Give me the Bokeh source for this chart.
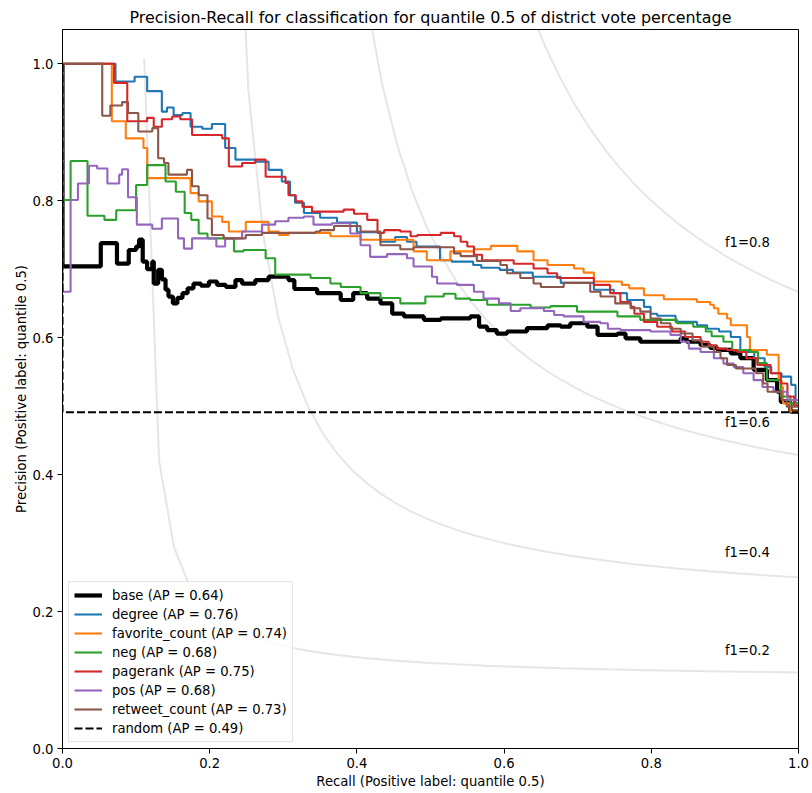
import numpy as np
from bokeh.plotting import figure
from bokeh.models import Range1d, FixedTicker, PrintfTickFormatter
from bokeh.core.properties import value
from bokeh.embed import file_html
from bokeh.resources import INLINE

# ---------------- data (recall, precision) ----------------
base_r = [0, 0, 0.052, 0.074, 0.090, 0.100, 0.104, 0.109, 0.115, 0.122, 0.124, 0.130, 0.135, 0.140, 0.144,
          0.150, 0.156, 0.163, 0.170, 0.178, 0.188, 0.199, 0.210, 0.222, 0.235, 0.244, 0.262, 0.280, 0.307,
          0.315, 0.346, 0.378, 0.395, 0.414, 0.432, 0.448, 0.464, 0.491, 0.514, 0.554, 0.566, 0.577, 0.590,
          0.604, 0.631, 0.659, 0.677, 0.690, 0.713, 0.727, 0.754, 0.765, 0.785, 0.840, 0.848, 0.867, 0.880,
          0.890, 0.908, 0.921, 0.939, 0.957, 0.971, 0.976, 0.989, 1.0]
base_p = [1.0, 0.704, 0.738, 0.708, 0.728, 0.733, 0.743, 0.711, 0.700, 0.711, 0.679, 0.699, 0.685, 0.670, 0.660,
          0.650, 0.658, 0.665, 0.672, 0.679, 0.676, 0.682, 0.677, 0.674, 0.684, 0.679, 0.684, 0.689, 0.684,
          0.671, 0.665, 0.655, 0.665, 0.657, 0.650, 0.635, 0.631, 0.626, 0.628, 0.631, 0.616, 0.611, 0.606,
          0.609, 0.614, 0.618, 0.616, 0.621, 0.616, 0.604, 0.606, 0.599, 0.594, 0.599, 0.594, 0.589, 0.585,
          0.582, 0.577, 0.570, 0.553, 0.538, 0.521, 0.506, 0.492, 0.492]

degree_r = [0, 0.072, 0.098, 0.115, 0.135, 0.142, 0.151, 0.163, 0.174, 0.190, 0.203, 0.221, 0.235, 0.262, 0.280,
            0.298, 0.309, 0.316, 0.328, 0.350, 0.373, 0.400, 0.432, 0.452, 0.468, 0.481, 0.513, 0.529, 0.558,
            0.569, 0.594, 0.612, 0.639, 0.677, 0.722, 0.749, 0.767, 0.790, 0.799, 0.808, 0.833, 0.862, 0.876,
            0.892, 0.908, 0.921, 0.940, 0.954, 0.963, 0.977, 0.990, 0.996, 1.0]
degree_p = [1.0, 0.974, 0.981, 0.960, 0.930, 0.936, 0.925, 0.928, 0.908, 0.905, 0.912, 0.877, 0.860, 0.857, 0.845,
            0.828, 0.808, 0.797, 0.782, 0.775, 0.768, 0.754, 0.740, 0.747, 0.740, 0.733, 0.713, 0.711, 0.706,
            0.702, 0.699, 0.695, 0.689, 0.680, 0.670, 0.665, 0.655, 0.645, 0.635, 0.632, 0.623, 0.618, 0.613,
            0.609, 0.601, 0.579, 0.570, 0.557, 0.548, 0.543, 0.531, 0.504, 0.504]

fav_r = [0, 0.067, 0.086, 0.110, 0.115, 0.174, 0.185, 0.203, 0.217, 0.226, 0.249, 0.280, 0.294, 0.307, 0.364,
         0.405, 0.477, 0.495, 0.527, 0.559, 0.582, 0.618, 0.640, 0.659, 0.695, 0.708, 0.722, 0.760, 0.770, 0.790,
         0.817, 0.862, 0.880, 0.885, 0.891, 0.903, 0.908, 0.930, 0.934, 0.957, 0.973, 0.977, 0.979, 0.989, 1.0]
fav_p = [1.0, 0.916, 0.891, 0.877, 0.833, 0.811, 0.799, 0.777, 0.769, 0.755, 0.769, 0.755, 0.750, 0.753, 0.748,
         0.743, 0.726, 0.713, 0.726, 0.729, 0.734, 0.726, 0.713, 0.706, 0.701, 0.695, 0.682, 0.677, 0.672, 0.662,
         0.656, 0.652, 0.648, 0.643, 0.635, 0.628, 0.618, 0.601, 0.582, 0.575, 0.538, 0.528, 0.504, 0.492, 0.492]

neg_r = [0, 0, 0.011, 0.034, 0.057, 0.073, 0.100, 0.115, 0.140, 0.154, 0.166, 0.175, 0.185, 0.197, 0.233, 0.246,
         0.276, 0.289, 0.337, 0.364, 0.378, 0.405, 0.432, 0.459, 0.493, 0.518, 0.534, 0.554, 0.577, 0.636, 0.663,
         0.699, 0.754, 0.785, 0.835, 0.857, 0.874, 0.882, 0.898, 0.910, 0.935, 0.945, 0.957, 0.976, 0.989, 1.0]
neg_p = [1.0, 0.801, 0.858, 0.778, 0.772, 0.786, 0.823, 0.852, 0.828, 0.813, 0.782, 0.772, 0.752, 0.745, 0.726, 0.728,
         0.716, 0.692, 0.687, 0.679, 0.674, 0.665, 0.658, 0.650, 0.660, 0.664, 0.657, 0.655, 0.648, 0.644, 0.646,
         0.638, 0.631, 0.626, 0.621, 0.616, 0.609, 0.602, 0.594, 0.582, 0.579, 0.563, 0.538, 0.514, 0.504, 0.504]

pr_r = [0, 0.070, 0.088, 0.115, 0.124, 0.135, 0.149, 0.160, 0.176, 0.217, 0.226, 0.244, 0.262, 0.276, 0.303, 0.307,
        0.317, 0.326, 0.339, 0.382, 0.396, 0.414, 0.428, 0.437, 0.459, 0.473, 0.482, 0.514, 0.532, 0.541, 0.550,
        0.559, 0.570, 0.613, 0.640, 0.659, 0.672, 0.695, 0.722, 0.744, 0.758, 0.772, 0.777, 0.790, 0.808, 0.828,
        0.846, 0.867, 0.878, 0.889, 0.903, 0.917, 0.929, 0.944, 0.962, 0.976, 0.985, 0.994, 1.0]
pr_p = [1.0, 0.972, 0.916, 0.921, 0.908, 0.919, 0.923, 0.919, 0.896, 0.891, 0.850, 0.855, 0.860, 0.835, 0.826, 0.808,
        0.799, 0.791, 0.784, 0.787, 0.781, 0.772, 0.753, 0.757, 0.755, 0.748, 0.750, 0.753, 0.748, 0.740, 0.733,
        0.721, 0.713, 0.708, 0.701, 0.694, 0.687, 0.687, 0.677, 0.665, 0.652, 0.645, 0.635, 0.623, 0.616, 0.609,
        0.601, 0.594, 0.589, 0.584, 0.582, 0.579, 0.570, 0.560, 0.548, 0.533, 0.514, 0.501, 0.501]

pos_r = [0, 0, 0.011, 0.021, 0.036, 0.047, 0.061, 0.077, 0.081, 0.089, 0.101, 0.122, 0.135, 0.157, 0.165, 0.176,
         0.209, 0.221, 0.244, 0.271, 0.289, 0.307, 0.328, 0.341, 0.366, 0.391, 0.405, 0.418, 0.441, 0.468, 0.477,
         0.502, 0.509, 0.536, 0.559, 0.572, 0.593, 0.609, 0.622, 0.654, 0.668, 0.681, 0.708, 0.731, 0.741, 0.758,
         0.799, 0.826, 0.840, 0.851, 0.867, 0.885, 0.898, 0.912, 0.925, 0.939, 0.951, 0.966, 0.985, 1.0]
pos_p = [1.0, 0.667, 0.801, 0.825, 0.851, 0.847, 0.825, 0.838, 0.846, 0.805, 0.765, 0.759, 0.774, 0.745, 0.730, 0.745,
         0.733, 0.745, 0.755, 0.765, 0.770, 0.775, 0.777, 0.765, 0.767, 0.752, 0.735, 0.718, 0.722, 0.716, 0.704,
         0.689, 0.679, 0.677, 0.667, 0.657, 0.650, 0.639, 0.643, 0.639, 0.633, 0.631, 0.623, 0.621, 0.613, 0.611,
         0.609, 0.604, 0.594, 0.584, 0.579, 0.570, 0.562, 0.557, 0.548, 0.538, 0.528, 0.521, 0.509, 0.509]

rt_r = [0, 0.054, 0.065, 0.081, 0.089, 0.103, 0.122, 0.130, 0.138, 0.144, 0.169, 0.176, 0.185, 0.197, 0.203, 0.219,
        0.249, 0.271, 0.344, 0.350, 0.369, 0.405, 0.432, 0.459, 0.477, 0.532, 0.541, 0.563, 0.595, 0.604, 0.622,
        0.640, 0.650, 0.681, 0.717, 0.731, 0.751, 0.772, 0.785, 0.799, 0.813, 0.826, 0.840, 0.856, 0.869, 0.885,
        0.894, 0.903, 0.915, 0.942, 0.952, 0.958, 0.977, 0.984, 1.0]
rt_p = [1.0, 0.924, 0.939, 0.944, 0.928, 0.901, 0.906, 0.862, 0.855, 0.838, 0.845, 0.821, 0.808, 0.774, 0.750, 0.745,
        0.750, 0.753, 0.755, 0.757, 0.763, 0.755, 0.735, 0.729, 0.732, 0.723, 0.719, 0.712, 0.706, 0.694, 0.687,
        0.679, 0.674, 0.680, 0.667, 0.660, 0.650, 0.643, 0.638, 0.628, 0.621, 0.613, 0.606, 0.596, 0.587, 0.579,
        0.570, 0.560, 0.555, 0.548, 0.533, 0.521, 0.509, 0.499, 0.499]

random_r = [0, 0, 1.0]
random_p = [1.0, 0.491, 0.491]

series_names = ["base", "degree", "favorite_count", "neg", "pagerank", "pos", "retweet_count", "random"]
series_ap = [0.64, 0.76, 0.74, 0.68, 0.75, 0.68, 0.73, 0.49]
series_colors = ["black", "#1f77b4", "#ff7f0e", "#2ca02c", "#d62728", "#9467bd", "#8c564b", "black"]
series_data = [(base_r, base_p), (degree_r, degree_p), (fav_r, fav_p), (neg_r, neg_p), (pr_r, pr_p),
               (pos_r, pos_p), (rt_r, rt_p), (random_r, random_p)]

f_scores = [0.2, 0.4, 0.6, 0.8]
x_ticks = [0.0, 0.2, 0.4, 0.6, 0.8, 1.0]
y_ticks = [0.0, 0.2, 0.4, 0.6, 0.8, 1.0]

FONT = "DejaVu Sans"
FS = "13.2px"

p = figure(width=812, height=793, x_range=Range1d(0, 1), y_range=Range1d(0, 1.05),
           output_backend="svg", toolbar_location=None,
           min_border_left=62, min_border_right=14, min_border_top=29, min_border_bottom=45,
           title="Precision-Recall for classification for quantile 0.5 of district vote percentage")
p.background_fill_color = "white"
p.border_fill_color = "white"
p.outline_line_color = "black"
p.outline_line_width = 1
p.grid.visible = False

p.title.text_font = FONT
p.title.text_font_size = "15.9px"
p.title.text_font_style = "normal"
p.title.text_color = "black"
p.title.align = "center"
p.title.standoff = 6

for ax in (p.xaxis, p.yaxis):
    ax.major_label_text_font = FONT
    ax.major_label_text_font_size = FS
    ax.major_label_text_color = "black"
    ax.axis_label_text_font = FONT
    ax.axis_label_text_font_size = FS
    ax.axis_label_text_font_style = "normal"
    ax.axis_label_text_color = "black"
    ax.major_tick_in = 0
    ax.major_tick_out = 5
    ax.minor_tick_line_color = None
    ax.axis_line_color = "black"
    ax.major_tick_line_color = "black"
    ax.formatter = PrintfTickFormatter(format="%.1f")
    ax.major_label_standoff = 4
p.xaxis.axis_label_standoff = 3
p.yaxis.axis_label_standoff = 1
p.xaxis.ticker = FixedTicker(ticks=x_ticks)
p.yaxis.ticker = FixedTicker(ticks=y_ticks)
p.xaxis.axis_label = "Recall (Positive label: quantile 0.5)"
p.yaxis.axis_label = "Precision (Positive label: quantile 0.5)"

# iso-f1 curves
xs = np.linspace(0.01, 1, 50)
lab_x, lab_y, lab_t = [], [], []
for f in f_scores:
    ys = f * xs / (2 * xs - f)
    m = ys >= 0
    p.line(xs[m], ys[m], line_color="gray", line_alpha=0.2, line_width=2)
    lab_x.append(0.9)
    lab_y.append(float(ys[45]) + 0.02)
    lab_t.append("f1={0:0.1f}".format(f))
p.text(x=lab_x, y=lab_y, text=lab_t, text_font=value(FONT), text_font_size=FS,
       text_color="black", text_align="left", text_baseline="bottom")

for name, ap, col, (r, pr) in zip(series_names, series_ap, series_colors, series_data):
    n = min(len(r), len(pr))
    kw = dict(line_color=col, line_width=2.1, legend_label=f"{name} (AP = {ap:.2f})", mode="after")
    if name == "base":
        kw["line_width"] = 4.2
    if name == "random":
        kw["line_dash"] = "8 3"
    p.step(r[:n], pr[:n], **kw)

lg = p.legend[0]
lg.location = "bottom_left"
lg.margin = 6
lg.padding = 5
lg.spacing = 3
lg.glyph_width = 28
lg.glyph_height = 16
lg.label_height = 16
lg.label_standoff = 10
lg.label_text_font = FONT
lg.label_text_font_size = FS
lg.label_text_color = "black"
lg.border_line_color = "#cccccc"
lg.border_line_width = 1
lg.background_fill_alpha = 0.8

open("out.html", "w").write(file_html(p, INLINE))
